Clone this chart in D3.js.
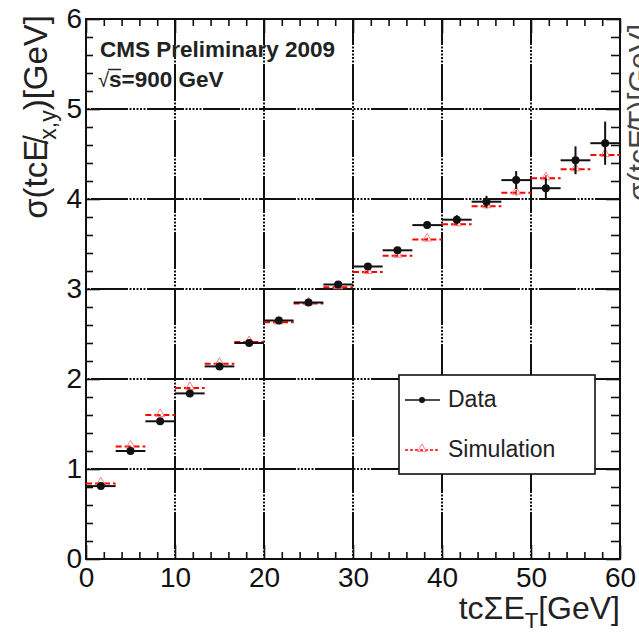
<!DOCTYPE html>
<html>
<head>
<meta charset="utf-8">
<script src="https://cdn.jsdelivr.net/npm/d3@7"></script>
<style>
  html, body { margin: 0; padding: 0; background: #fff; }
  svg { display: block; font-family: "Liberation Sans", Arial, Helvetica, sans-serif; }
</style>
</head>
<body>
<svg id="chart" width="639" height="634"></svg>
<script>
// bins in tcSumET (GeV)
var binLo = [0, 3.33, 6.67, 10, 13.33, 16.67, 20, 23.33, 26.67, 30, 33.33, 36.67, 40, 43.33, 46.67, 50, 53.33, 56.67];
var binHi = [3.33, 6.67, 10, 13.33, 16.67, 20, 23.33, 26.67, 30, 33.33, 36.67, 40, 43.33, 46.67, 50, 53.33, 56.67, 60];
var binMid = [1.67, 5, 8.33, 11.67, 15, 18.33, 21.67, 25, 28.33, 31.67, 35, 38.33, 41.67, 45, 48.33, 51.67, 55, 58.33];

// sigma(tcMET x,y) in GeV
var dataVals = [0.81, 1.20, 1.53, 1.84, 2.14, 2.40, 2.65, 2.85, 3.05, 3.25, 3.43, 3.71, 3.77, 3.97, 4.21, 4.12, 4.43, 4.62];
var dataErr  = [0.01, 0.01, 0.01, 0.01, 0.01, 0.015, 0.02, 0.02, 0.025, 0.03, 0.035, 0.04, 0.05, 0.065, 0.10, 0.11, 0.155, 0.24];
var simVals  = [0.84, 1.25, 1.60, 1.90, 2.17, 2.41, 2.63, 2.84, 3.02, 3.19, 3.37, 3.55, 3.72, 3.92, 4.07, 4.23, 4.33, 4.49];
var simErr   = [0.005, 0.005, 0.005, 0.005, 0.01, 0.01, 0.01, 0.01, 0.01, 0.015, 0.015, 0.02, 0.02, 0.025, 0.03, 0.035, 0.04, 0.05];

var xMajor = [0, 10, 20, 30, 40, 50, 60];
var xMinor = [2, 4, 6, 8, 12, 14, 16, 18, 22, 24, 26, 28, 32, 34, 36, 38, 42, 44, 46, 48, 52, 54, 56, 58];
var yMajor = [0, 1, 2, 3, 4, 5, 6];
var yMinor = [0.2, 0.4, 0.6, 0.8, 1.2, 1.4, 1.6, 1.8, 2.2, 2.4, 2.6, 2.8, 3.2, 3.4, 3.6, 3.8,
              4.2, 4.4, 4.6, 4.8, 5.2, 5.4, 5.6, 5.8];
var xGrid = [10, 20, 30, 40, 50];
var yGrid = [1, 2, 3, 4, 5];

var legendLabels = ["Data", "Simulation"];

(function (d3) {
  "use strict";

  var pLeft = 86, pRight = 620, pTop = 19, pBottom = 559;
  var x = d3.scaleLinear().domain([0, 60]).range([pLeft, pRight]);
  var y = d3.scaleLinear().domain([0, 6]).range([pBottom, pTop]);

  var svg = d3.select("#chart");
  var ink = "#111";
  var red = "#ff0000";
  var gridDash = "37,1.5,2,1.5,2,1.5,2,1.5,2,1.5,2,1.5";

  /***** neighbouring panel's axis title, clipped at the right edge *****/
  svg.append("text")
    .attr("transform", "translate(649,24) rotate(-90)")
    .attr("text-anchor", "end")
    .style("font-size", "30px")
    .attr("fill", "#444")
    .text("σ(tcE̸T)[GeV]");

  /***** grid *****/
  svg.append("g").selectAll("line").data(yGrid).enter().append("line")
    .attr("x1", pLeft).attr("x2", pRight)
    .attr("y1", function (d) { return y(d); }).attr("y2", function (d) { return y(d); })
    .attr("stroke", ink).attr("stroke-width", 2)
    .attr("stroke-dasharray", gridDash).attr("stroke-dashoffset", -5);

  svg.append("g").selectAll("line").data(xGrid).enter().append("line")
    .attr("y1", pBottom).attr("y2", pTop)
    .attr("x1", function (d) { return x(d); }).attr("x2", function (d) { return x(d); })
    .attr("stroke", ink).attr("stroke-width", 2)
    .attr("stroke-dasharray", gridDash).attr("stroke-dashoffset", -10);

  /***** axes (inside ticks on all four sides) *****/
  function styleAxis(g) {
    g.select(".domain").remove();
    g.selectAll(".tick line").attr("stroke", ink).attr("stroke-width", 1.6);
    g.selectAll(".tick text").attr("fill", ink)
      .style("font-size", "28px").style("font-family", "Liberation Sans, Arial, sans-serif");
  }

  svg.append("g").attr("transform", "translate(0," + pBottom + ")")
    .call(d3.axisBottom(x).tickValues(xMajor).tickSize(-14).tickPadding(8).tickFormat(d3.format("d")))
    .call(styleAxis);
  svg.append("g").attr("transform", "translate(0," + pBottom + ")")
    .call(d3.axisBottom(x).tickValues(xMinor).tickSize(-7).tickFormat(""))
    .call(styleAxis);
  svg.append("g").attr("transform", "translate(0," + pTop + ")")
    .call(d3.axisTop(x).tickValues(xMajor).tickSize(-14).tickFormat(""))
    .call(styleAxis);
  svg.append("g").attr("transform", "translate(0," + pTop + ")")
    .call(d3.axisTop(x).tickValues(xMinor).tickSize(-7).tickFormat(""))
    .call(styleAxis);

  svg.append("g").attr("transform", "translate(" + pLeft + ",0)")
    .call(d3.axisLeft(y).tickValues(yMajor).tickSize(-14).tickPadding(4).tickFormat(d3.format("d")))
    .call(styleAxis);
  svg.append("g").attr("transform", "translate(" + pLeft + ",0)")
    .call(d3.axisLeft(y).tickValues(yMinor).tickSize(-7).tickFormat(""))
    .call(styleAxis);
  svg.append("g").attr("transform", "translate(" + pRight + ",0)")
    .call(d3.axisRight(y).tickValues(yMajor).tickSize(-14).tickFormat(""))
    .call(styleAxis);
  svg.append("g").attr("transform", "translate(" + pRight + ",0)")
    .call(d3.axisRight(y).tickValues(yMinor).tickSize(-9).tickFormat(""))
    .call(styleAxis);

  /***** frame *****/
  svg.append("rect")
    .attr("x", pLeft).attr("y", pTop)
    .attr("width", pRight - pLeft).attr("height", pBottom - pTop)
    .attr("fill", "none").attr("stroke", ink).attr("stroke-width", 2);

  /***** simulation: dashed red steps, open triangles *****/
  var idx = d3.range(binMid.length);
  var triangle = d3.symbol().type(d3.symbolTriangle).size(34);

  var sim = svg.append("g");
  sim.selectAll("line.h").data(idx).enter().append("line").attr("class", "h")
    .attr("x1", function (i) { return x(binLo[i]); })
    .attr("x2", function (i) { return x(binHi[i]); })
    .attr("y1", function (i) { return y(simVals[i]); })
    .attr("y2", function (i) { return y(simVals[i]); })
    .attr("stroke", red).attr("stroke-width", 2).attr("stroke-dasharray", "6,3");
  sim.selectAll("line.v").data(idx).enter().append("line").attr("class", "v")
    .attr("x1", function (i) { return x(binMid[i]); })
    .attr("x2", function (i) { return x(binMid[i]); })
    .attr("y1", function (i) { return y(simVals[i] - simErr[i]); })
    .attr("y2", function (i) { return y(simVals[i] + simErr[i]); })
    .attr("stroke", red).attr("stroke-width", 1.5);
  sim.selectAll("path").data(idx).enter().append("path")
    .attr("d", triangle)
    .attr("transform", function (i) { return "translate(" + x(binMid[i]) + "," + (y(simVals[i]) - 1) + ")"; })
    .attr("fill", "none").attr("stroke", "#ff8080").attr("stroke-width", 1);

  /***** data: black bins with error bars and dots *****/
  var dat = svg.append("g");
  dat.selectAll("line.h").data(idx).enter().append("line").attr("class", "h")
    .attr("x1", function (i) { return x(binLo[i]); })
    .attr("x2", function (i) { return x(binHi[i]); })
    .attr("y1", function (i) { return y(dataVals[i]); })
    .attr("y2", function (i) { return y(dataVals[i]); })
    .attr("stroke", ink).attr("stroke-width", 2);
  dat.selectAll("line.v").data(idx).enter().append("line").attr("class", "v")
    .attr("x1", function (i) { return x(binMid[i]); })
    .attr("x2", function (i) { return x(binMid[i]); })
    .attr("y1", function (i) { return y(dataVals[i] - dataErr[i]); })
    .attr("y2", function (i) { return y(dataVals[i] + dataErr[i]); })
    .attr("stroke", ink).attr("stroke-width", 2);
  dat.selectAll("circle").data(idx).enter().append("circle")
    .attr("cx", function (i) { return x(binMid[i]); })
    .attr("cy", function (i) { return y(dataVals[i]); })
    .attr("r", 4).attr("fill", ink);

  /***** legend *****/
  var leg = svg.append("g");
  leg.append("rect")
    .attr("x", 399).attr("y", 375).attr("width", 196).attr("height", 99)
    .attr("fill", "#fff").attr("stroke", ink).attr("stroke-width", 1.6);
  leg.append("line").attr("x1", 405).attr("x2", 440).attr("y1", 400).attr("y2", 400)
    .attr("stroke", ink).attr("stroke-width", 1.6);
  leg.append("circle").attr("cx", 422).attr("cy", 400).attr("r", 3).attr("fill", ink);
  leg.append("line").attr("x1", 405).attr("x2", 440).attr("y1", 450).attr("y2", 450)
    .attr("stroke", red).attr("stroke-width", 1.3).attr("stroke-dasharray", "3,2");
  leg.append("path").attr("d", triangle).attr("transform", "translate(422,449)")
    .attr("fill", "none").attr("stroke", "#ff8080").attr("stroke-width", 1);
  leg.selectAll("text").data(legendLabels).enter().append("text")
    .attr("x", 448)
    .attr("y", function (d, i) { return 407 + i * 50; })
    .style("font-size", "23px").attr("fill", "#222")
    .text(function (d) { return d; });

  /***** labels *****/
  svg.append("text")
    .attr("x", 100).attr("y", 56.5)
    .style("font-size", "22.5px").style("font-weight", "bold").attr("fill", "#222")
    .text("CMS Preliminary 2009");

  var sq = svg.append("text").attr("x", 98).attr("y", 86.5).attr("fill", "#222").style("font-size", "22.5px");
  sq.append("tspan").style("font-weight", "normal").style("font-size", "20px").text("√");
  sq.append("tspan").style("font-weight", "bold").text("s=900 GeV");
  svg.append("line").attr("x1", 108).attr("x2", 121).attr("y1", 69.5).attr("y2", 69.5)
    .attr("stroke", "#222").attr("stroke-width", 1.5);

  // y title
  var yt = svg.append("text")
    .attr("transform", "translate(47,15) rotate(-90)")
    .attr("text-anchor", "end")
    .style("font-size", "33px").attr("fill", "#222");
  yt.append("tspan").text("σ(tc");
  yt.append("tspan").text("E̸");
  yt.append("tspan").attr("dy", 9).style("font-size", "23px").text("x,y");
  yt.append("tspan").attr("dy", -9).text(")[GeV]");

  // x title
  var xt = svg.append("text")
    .attr("x", 620).attr("y", 619)
    .attr("text-anchor", "end")
    .style("font-size", "32px").attr("fill", "#222");
  xt.append("tspan").text("tcΣE");
  xt.append("tspan").attr("dy", 9).style("font-size", "22px").text("T");
  xt.append("tspan").attr("dy", -9).text("[GeV]");
})(d3);
</script>
</body>
</html>
